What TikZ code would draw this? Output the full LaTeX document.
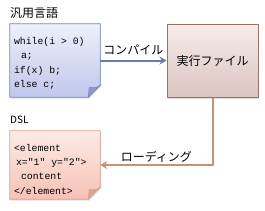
\documentclass[tikz,border=0pt]{standalone}
\usepackage{fontspec}
\newfontfamily\jpfont{Noto Sans CJK JP}
\newfontfamily\codefont{Liberation Mono}
\usetikzlibrary{arrows.meta,positioning,calc,shadows}

\definecolor{srctop}{HTML}{EEF0FB}
\definecolor{srcbot}{HTML}{BFC7EC}
\definecolor{srcline}{HTML}{7A88B8}
\definecolor{srcfold}{HTML}{8E99CC}
\definecolor{dsltop}{HTML}{FDEAE5}
\definecolor{dslbot}{HTML}{F7C2B5}
\definecolor{dslline}{HTML}{DE9E8E}
\definecolor{dslfold}{HTML}{D8A595}
\definecolor{exetop}{HTML}{F5EEEC}
\definecolor{exebot}{HTML}{DCC3BF}
\definecolor{exeline}{HTML}{9C7268}
\definecolor{arrowblue}{HTML}{6B7BB0}
\definecolor{arrowbrown}{HTML}{C4907F}

\begin{document}
\begin{tikzpicture}[x=1pt,y=-1pt,
    jp/.style={font=\jpfont\fontsize{12}{14}\selectfont, inner sep=0pt, text=black},
    title/.style={font=\jpfont\fontsize{10}{12}\selectfont, inner sep=0pt, anchor=west},
    code/.style={font=\codefont\fontsize{9.8}{14.3}\selectfont, align=left, inner sep=0pt, anchor=north west},
    notebox/.style={minimum width=90pt, minimum height=73pt, inner sep=0pt},
    shadowed/.style={drop shadow={shadow xshift=1pt, shadow yshift=-1.5pt, opacity=0.25}},
    connector/.style={line width=2pt, -{Stealth[length=7pt,width=8pt]}},
  ]
    \useasboundingbox (0,0) rectangle (265,210);
    % --- 定義 ---
    \def\fold{12}   % 折り返しの大きさ

    % --- ボックスの配置 ---
    \node[notebox] (src) at (55,60.5) {};
    \node[notebox, minimum height=68pt] (dsl) at (55,165) {};
    \node[notebox, minimum width=91pt, draw=exeline, line width=1pt,
          top color=exetop, bottom color=exebot, shadowed, jp] (exe) at (212.5,60.5) {実行ファイル};

    % --- メモ形状 (右下が折れている) ---
    \path[shadowed, top color=srctop, bottom color=srcbot, draw=srcline, line width=0.8pt]
        (src.north west) -- (src.north east) -- ($(src.south east)+(0,-\fold)$)
        -- ($(src.south east)+(-\fold,0)$) -- (src.south west) -- cycle;
    \path[fill=srcfold, draw=srcline, line width=0.5pt]
        ($(src.south east)+(0,-\fold)$) .. controls ($(src.south east)+(-5,-9)$) .. ($(src.south east)+(-11,-10)$)
        -- ($(src.south east)+(-\fold,0)$) -- cycle;

    \path[shadowed, top color=dsltop, bottom color=dslbot, draw=dslline, line width=0.8pt]
        (dsl.north west) -- (dsl.north east) -- ($(dsl.south east)+(0,-\fold)$)
        -- ($(dsl.south east)+(-\fold,0)$) -- (dsl.south west) -- cycle;
    \path[fill=dslfold, draw=dslline, line width=0.5pt]
        ($(dsl.south east)+(0,-\fold)$) .. controls ($(dsl.south east)+(-5,-9)$) .. ($(dsl.south east)+(-11,-10)$)
        -- ($(dsl.south east)+(-\fold,0)$) -- cycle;

    % --- コード ---
    \node[code] (srccode) at ($(src.north west)+(4,13.5)$)
        {while(i > 0)\\\hspace*{7pt}a;\\if(x) b;\\else c;};
    \node[code] (dslcode) at ($(dsl.north west)+(4,13)$)
        {<element\\\hspace*{2pt}x="1" y="2">\\\hspace*{7pt}content\\</element>};

    % --- 見出し ---
    \node[title, font=\jpfont\fontsize{12}{14}\selectfont] (srctitle) at (10,13) {汎用言語};
    \node[title] (dsltitle) at (10,119.5) {DSL};

    % --- 矢印 ---
    \draw[connector, arrowblue] (src.east) -- (exe.west)
        node[midway, above=5pt, jp] (compile) {コンパイル};
    \draw[connector, arrowbrown] (exe.south) |- (dsl.east)
        node[pos=0.75, above=2pt, jp] (loading) {ローディング};
\end{tikzpicture}
\end{document}
